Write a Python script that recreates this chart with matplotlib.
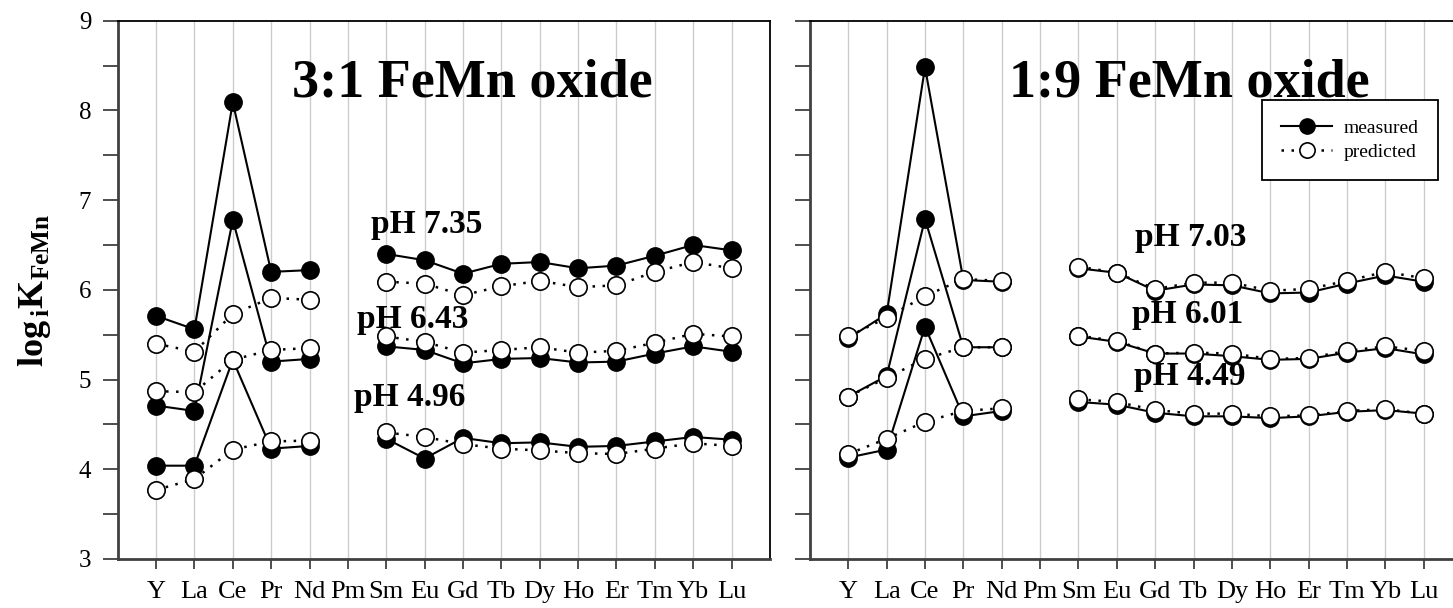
import numpy as np
import matplotlib
matplotlib.use('Agg')
import matplotlib.pyplot as plt
from matplotlib.ticker import MultipleLocator

plt.rcParams['font.family'] = 'Liberation Serif'
plt.rcParams['mathtext.fontset'] = 'custom'
plt.rcParams['mathtext.rm'] = 'Liberation Serif'
plt.rcParams['mathtext.bf'] = 'Liberation Serif:bold'

nan = np.nan

# rare earth elements on the x axis (Pm has no data)
elements = ['Y', 'La', 'Ce', 'Pr', 'Nd', 'Pm', 'Sm', 'Eu', 'Gd', 'Tb', 'Dy', 'Ho', 'Er', 'Tm', 'Yb', 'Lu']

# 3:1 FeMn oxide
meas_735 = [5.71, 5.56, 8.09, 6.20, 6.22, nan, 6.40, 6.33, 6.18, 6.29, 6.31, 6.24, 6.27, 6.38, 6.50, 6.44]
pred_735 = [5.40, 5.31, 5.73, 5.91, 5.89, nan, 6.09, 6.07, 5.94, 6.04, 6.10, 6.03, 6.05, 6.20, 6.31, 6.24]
meas_643 = [4.71, 4.65, 6.78, 5.20, 5.23, nan, 5.37, 5.33, 5.18, 5.23, 5.24, 5.19, 5.20, 5.29, 5.37, 5.31]
pred_643 = [4.87, 4.86, 5.22, 5.33, 5.35, nan, 5.48, 5.42, 5.30, 5.33, 5.36, 5.30, 5.32, 5.41, 5.51, 5.48]
meas_496 = [4.04, 4.04, 5.22, 4.23, 4.26, nan, 4.34, 4.12, 4.35, 4.29, 4.30, 4.25, 4.26, 4.31, 4.36, 4.33]
pred_496 = [3.77, 3.89, 4.22, 4.31, 4.32, nan, 4.41, 4.36, 4.28, 4.23, 4.21, 4.18, 4.17, 4.23, 4.29, 4.26]

# 1:9 FeMn oxide
meas_703 = [5.46, 5.73, 8.48, 6.11, 6.09, nan, 6.24, 6.19, 5.99, 6.06, 6.05, 5.96, 5.97, 6.07, 6.16, 6.09]
pred_703 = [5.48, 5.69, 5.93, 6.12, 6.10, nan, 6.26, 6.19, 6.01, 6.08, 6.08, 5.99, 6.01, 6.10, 6.20, 6.13]
meas_601 = [4.81, 5.04, 6.79, 5.36, 5.36, nan, 5.48, 5.42, 5.29, 5.29, 5.26, 5.22, 5.23, 5.30, 5.35, 5.28]
pred_601 = [4.81, 5.02, 5.23, 5.36, 5.36, nan, 5.49, 5.43, 5.29, 5.30, 5.29, 5.23, 5.24, 5.32, 5.37, 5.32]
meas_449 = [4.13, 4.22, 5.59, 4.59, 4.65, nan, 4.75, 4.72, 4.63, 4.59, 4.59, 4.57, 4.59, 4.64, 4.66, 4.62]
pred_449 = [4.17, 4.34, 4.53, 4.65, 4.68, nan, 4.78, 4.75, 4.66, 4.62, 4.62, 4.59, 4.60, 4.65, 4.67, 4.62]

x = np.arange(len(elements))

fig = plt.figure(figsize=(14.53, 6.08), dpi=100)
ax1 = fig.add_axes([0.0810, 0.0806, 0.4489, 0.8854])
ax2 = fig.add_axes([0.5574, 0.0806, 0.4489, 0.8854])


def style_axis(ax, show_labels):
    ax.set_xlim(-1, 16)
    ax.set_ylim(3, 9)
    ax.set_xticks(x)
    ax.set_xticklabels(elements, fontsize=19)
    ax.yaxis.set_major_locator(MultipleLocator(1))
    ax.yaxis.set_minor_locator(MultipleLocator(0.5))
    ax.tick_params(axis='y', which='both', direction='out', length=11, width=1.3,
                   color='#404040', labelsize=18, pad=8, labelleft=show_labels)
    ax.tick_params(axis='x', direction='out', length=7, width=1.3, color='#404040', pad=9)
    ax.grid(axis='x', color='#cccccc', linewidth=1)
    ax.set_axisbelow(True)
    for s in ['left', 'bottom']:
        ax.spines[s].set_color('#404040')
        ax.spines[s].set_linewidth(2)
    for s in ['top', 'right']:
        ax.spines[s].set_color('black')
        ax.spines[s].set_linewidth(1.3)


def draw(ax, meas, pred):
    lm, = ax.plot(x, meas, '-o', color='black', lw=1.5, ms=12.5, mfc='black', mec='black', zorder=3)
    lp, = ax.plot(x, pred, 'o', linestyle=(0, (1, 3)), color='black', lw=1.8, ms=12.5,
                  mfc='white', mec='black', mew=1.2, zorder=4)
    return lm, lp


for m, p in [(meas_735, pred_735), (meas_643, pred_643), (meas_496, pred_496)]:
    draw(ax1, m, p)
handles = None
for m, p in [(meas_703, pred_703), (meas_601, pred_601), (meas_449, pred_449)]:
    h = draw(ax2, m, p)
    if handles is None:
        handles = h

style_axis(ax1, True)
style_axis(ax2, False)

ax1.text(3.55, 8.16, '3:1 FeMn oxide', fontsize=39, fontweight='bold', va='baseline')
ax2.text(4.2, 8.16, '1:9 FeMn oxide', fontsize=39, fontweight='bold', va='baseline')

ax1.text(5.61, 6.63, 'pH 7.35', fontsize=24, fontweight='bold', va='baseline')
ax1.text(5.25, 5.57, 'pH 6.43', fontsize=24, fontweight='bold', va='baseline')
ax1.text(5.17, 4.70, 'pH 4.96', fontsize=24, fontweight='bold', va='baseline')
ax2.text(7.47, 6.49, 'pH 7.03', fontsize=24, fontweight='bold', va='baseline')
ax2.text(7.39, 5.63, 'pH 6.01', fontsize=24, fontweight='bold', va='baseline')
ax2.text(7.45, 4.94, 'pH 4.49', fontsize=24, fontweight='bold', va='baseline')

leg = ax2.legend(handles, ['measured', 'predicted'], loc='upper right',
                 bbox_to_anchor=(1438 / 1453, 1 - 100 / 608), bbox_transform=fig.transFigure,
                 fontsize=14, fancybox=False, framealpha=1, edgecolor='black',
                 handlelength=2.6, borderpad=1.0, labelspacing=0.3, handletextpad=0.6, borderaxespad=0)
leg.get_frame().set_linewidth(1.3)
for lh in leg.get_lines():
    lh.set_markersize(11)

fig.text(0.024, 1 - 290 / 608, r'$\mathbf{log}_{\mathbf{\,i}}\mathbf{K}_{\mathbf{FeMn}}$',
         rotation=90, fontsize=26, va='center', ha='center')

fig.savefig('out.png', dpi=100)
